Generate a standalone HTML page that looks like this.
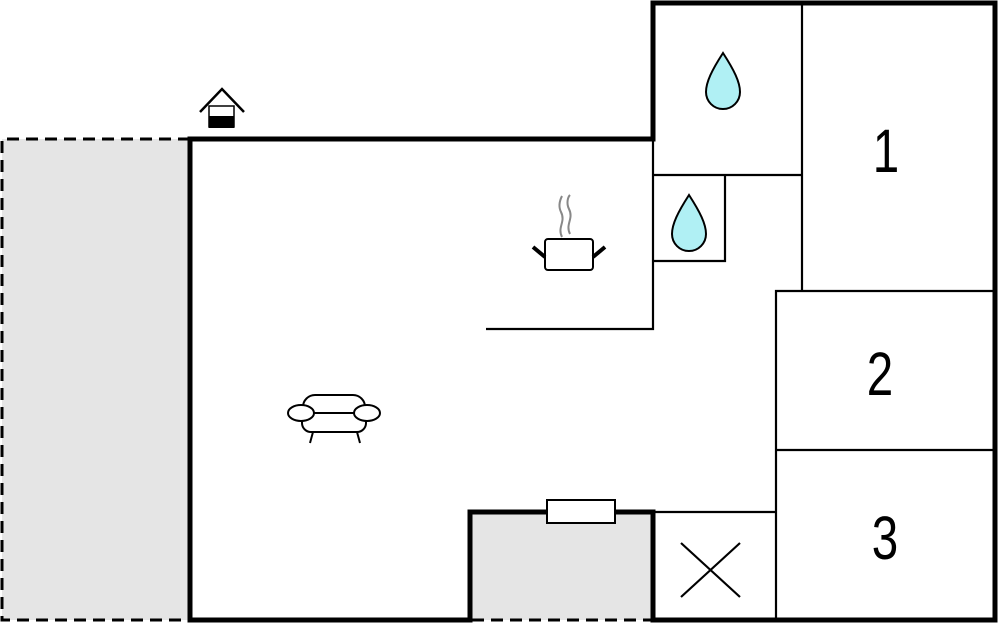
<!DOCTYPE html>
<html><head><style>body{margin:0;background:#fff}svg{display:block}</style></head>
<body>
<svg width="1000" height="625" viewBox="0 0 1000 625" xmlns="http://www.w3.org/2000/svg">
<rect x="2" y="139" width="188" height="481" fill="#e5e5e5"/>
<path d="M190 139 H2 V620 H190" fill="none" stroke="#000" stroke-width="3" stroke-dasharray="12,7"/>
<rect x="470" y="512" width="183" height="108" fill="#e5e5e5"/>
<line x1="472" y1="620" x2="651" y2="620" stroke="#000" stroke-width="3" stroke-dasharray="12,7"/>
<g fill="none" stroke="#000" stroke-width="5" stroke-linecap="square">
<path d="M190 620 V139 H653 V3 H995 V620 H653"/>
<path d="M190 620 H470 V512 H653 V620"/>
</g>
<g fill="none" stroke="#000" stroke-width="2.2">
<path d="M653 139 V329 H486"/>
<path d="M653 175 H802"/>
<path d="M802 3 V291"/>
<path d="M725 175 V261 H653"/>
<path d="M776 620 V291 H995"/>
<path d="M776 450 H995"/>
<path d="M653 512 H776"/>
<path d="M681 543 L740 597 M740 543 L681 597"/>
</g>
<rect x="547" y="500" width="68" height="23" fill="#fff" stroke="#000" stroke-width="2"/>
<path d="M723 53 C712 70 706 82 706 92 A17 17 0 0 0 740 92 C740 82 734 70 723 53 Z" fill="#b0f0f4" stroke="#000" stroke-width="2"/>
<path d="M689 195 C678 212 672 224 672 234 A17 17 0 0 0 706 234 C706 224 700 212 689 195 Z" fill="#b0f0f4" stroke="#000" stroke-width="2"/>
<g font-family="Liberation Sans, sans-serif" font-size="61" text-anchor="middle" fill="#000">
<text transform="translate(886,172) scale(0.78,1)">1</text>
<text transform="translate(880,395) scale(0.78,1)">2</text>
<text transform="translate(885,559) scale(0.78,1)">3</text>
</g>
<path d="M200 112 L222 89 L244 112" fill="none" stroke="#000" stroke-width="2.5"/>
<rect x="209" y="106" width="25" height="21" fill="#fff" stroke="#000" stroke-width="1.5"/>
<rect x="209" y="116" width="25" height="12" fill="#000"/>
<path d="M562 237 C557 227 566 222 561 212 C558 206 560 200 562 196 M570 234 C565 224 574 219 569 209 C566 203 568 197 570 195" fill="none" stroke="#888" stroke-width="2"/>
<rect x="545" y="239" width="48" height="31" rx="3" fill="#fff" stroke="#000" stroke-width="2"/>
<path d="M533 247 L545 257 M605 247 L593 257" stroke="#000" stroke-width="4"/>
<g fill="#fff" stroke="#000" stroke-width="2">
<rect x="303" y="395" width="62" height="30" rx="12"/>
<rect x="302" y="413" width="64" height="19" rx="9"/>
<ellipse cx="301" cy="413" rx="13" ry="8"/>
<ellipse cx="367" cy="413" rx="13" ry="8"/>
<path d="M313 432 L310 443 M357 432 L360 443" fill="none"/>
</g>
</svg>
</body></html>
